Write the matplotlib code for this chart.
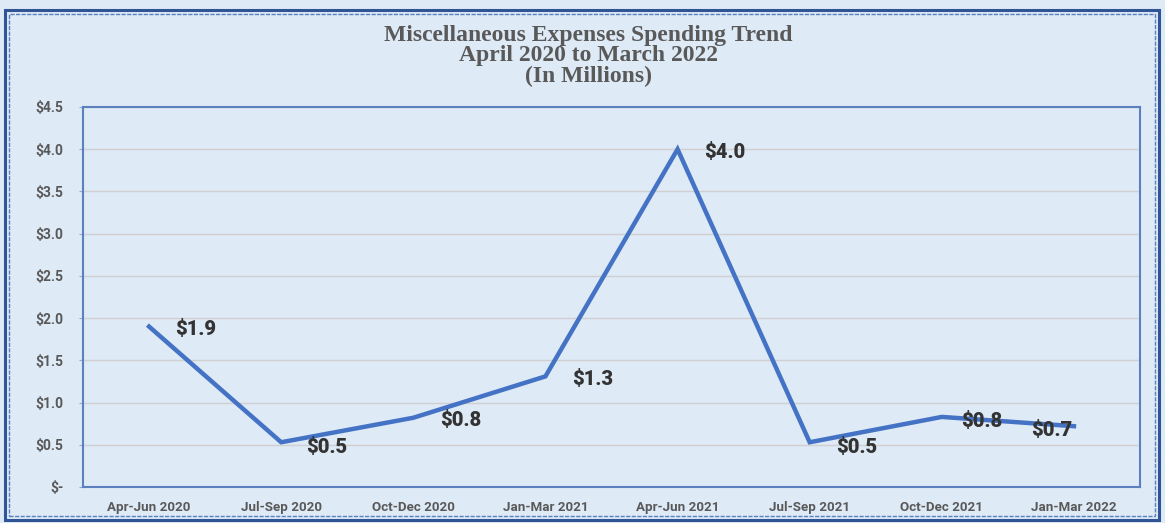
import matplotlib
matplotlib.use("Agg")
import matplotlib.pyplot as plt
from matplotlib.patches import Rectangle

# data
quarters = ["Apr-Jun 2020", "Jul-Sep 2020", "Oct-Dec 2020", "Jan-Mar 2021",
            "Apr-Jun 2021", "Jul-Sep 2021", "Oct-Dec 2021", "Jan-Mar 2022"]
spend = [1.9, 0.53, 0.82, 1.31, 4.0, 0.53, 0.83, 0.72]
labels = ["$1.9", "$0.5", "$0.8", "$1.3", "$4.0", "$0.5", "$0.8", "$0.7"]
yticks = [0, 0.5, 1.0, 1.5, 2.0, 2.5, 3.0, 3.5, 4.0, 4.5]

bg = "#DEEAF6"
fig = plt.figure(figsize=(11.65, 5.23), dpi=100)
fig.patch.set_facecolor(bg)

# outer double border
fig.add_artist(Rectangle((5/1165, 3/523), 1154/1165, 510/523, transform=fig.transFigure,
                         fill=False, ec="#2F5597", lw=2.2))
fig.add_artist(Rectangle((9/1165, 7/523), 1146/1165, 502/523, transform=fig.transFigure,
                         fill=False, ec="#5B7FBF", lw=1.0, ls=(0, (3, 1))))

ax = fig.add_axes([83/1165, 36/523, 1057/1165, 380/523])
ax.set_facecolor(bg)
x = list(range(len(quarters)))
ax.plot(x, spend, color="#4472C4", lw=3.2, solid_joinstyle="miter")

ax.set_xlim(-0.5, len(quarters) - 0.5)
ax.set_ylim(0, 4.5)
ax.set_yticks(yticks)
ax.set_yticklabels(["$-" if v == 0 else "${:.1f}".format(v) for v in yticks])
ax.set_xticks(x)
ax.set_xticklabels(quarters)
for t in ax.get_xticklabels() + ax.get_yticklabels():
    t.set_fontfamily("Roboto")
    t.set_fontweight("bold")
    t.set_fontsize(10)
    t.set_color("#595959")
for t in ax.get_xticklabels():
    t.set_fontsize(9.6)
ax.tick_params(axis="y", length=3, color="#8FAADC", pad=11)
ax.tick_params(axis="x", length=0, pad=10)
ax.grid(axis="y", color="#D0D0D0", lw=1)
ax.set_axisbelow(True)
for s in ax.spines.values():
    s.set_color("#5B7FBF")
    s.set_linewidth(1.5)

# data labels
offsets = [(19, -2), (18, -4), (19, -2), (19, -2), (19, -2), (19, -4), (14, -3), (-1, -3)]
for xi, yi, lab, off in zip(x, spend, labels, offsets):
    ax.annotate(lab, (xi, yi), xytext=off, textcoords="offset points",
                ha="left" if off[0] > 0 else "right", va="center",
                fontsize=14.5, fontweight="heavy", color="#333333", family="Roboto")

fig.text(0.505, 0.952, "Miscellaneous Expenses Spending Trend\nApril 2020 to March 2022\n(In Millions)",
         ha="center", va="top", fontsize=17, fontweight="bold", color="#595959",
         family="Liberation Serif", linespacing=0.95)

fig.savefig("out.png", dpi=100, facecolor=bg)
